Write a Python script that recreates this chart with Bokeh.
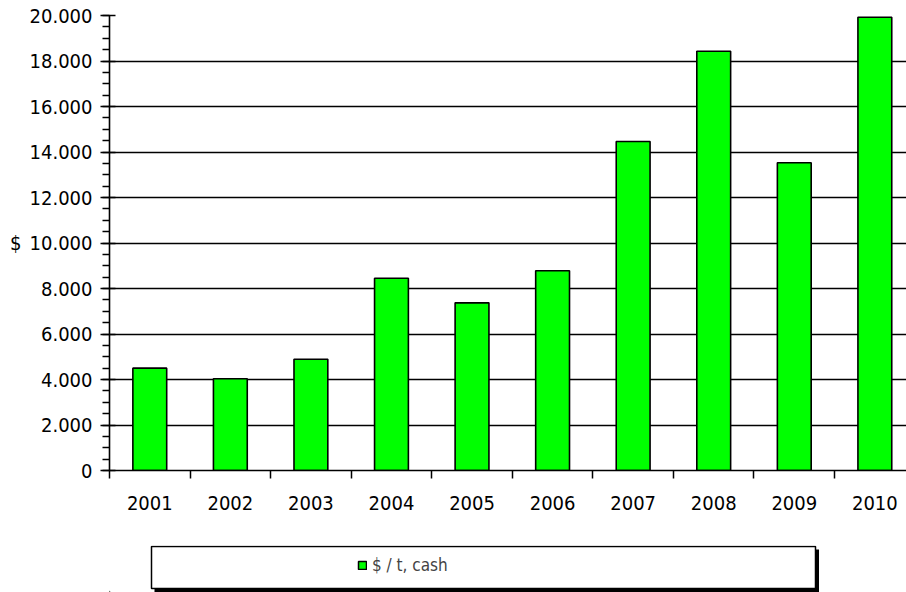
from bokeh.plotting import figure
from bokeh.models import Range1d, FixedTicker, Legend, LegendItem
from bokeh.layouts import column
from bokeh.embed import file_html
from bokeh.resources import INLINE

# ---- data ----
years = ["2001", "2002", "2003", "2004", "2005", "2006", "2007", "2008", "2009", "2010"]
price = [4500, 4030, 4890, 8450, 7370, 8780, 14460, 18430, 13530, 19920]
y_ticks = [0, 2000, 4000, 6000, 8000, 10000, 12000, 14000, 16000, 18000, 20000]
y_tick_labels = ["0", "2.000", "4.000", "6.000", "8.000", "10.000",
                 "12.000", "14.000", "16.000", "18.000", "20.000"]
series_name = "$ / t, cash"
y_label = "$"

FONT = "'DejaVu Sans Condensed', 'DejaVu Sans'"
LFONT = "'Liberation Sans Narrow', 'DejaVu Sans Condensed', sans-serif"
GREEN = "#00FF00"

xs = list(range(1, len(years) + 1))

p = figure(width=906, height=545, output_backend="svg", toolbar_location=None,
           x_range=Range1d(0.5, 10.393), y_range=Range1d(0, 20000),
           min_border_left=109, min_border_right=0, min_border_top=15,
           min_border_bottom=75)
p.outline_line_color = None
p.background_fill_color = "white"

p.vbar(x=xs, top=price, width=0.42, fill_color=GREEN, line_color="black", line_width=1.6)

# y axis
ya = p.yaxis[0]
ya.ticker = FixedTicker(ticks=y_ticks, minor_ticks=list(range(0, 20001, 500)))
ya.major_label_overrides = {t: l for t, l in zip(y_ticks, y_tick_labels)}
ya.major_tick_in = 6
ya.major_tick_out = 9
ya.minor_tick_in = 0
ya.minor_tick_out = 7
ya.axis_line_color = "black"
ya.axis_line_width = 1.6
ya.major_tick_line_color = "black"
ya.major_tick_line_width = 1.6
ya.minor_tick_line_color = "black"
ya.minor_tick_line_width = 1.5
ya.major_label_text_font = FONT
ya.major_label_text_font_size = "20px"
ya.major_label_text_color = "black"
ya.major_label_standoff = 8
ya.axis_label = y_label
ya.axis_label_orientation = "horizontal"
ya.axis_label_text_font = FONT
ya.axis_label_text_font_size = "20px"
ya.axis_label_text_font_style = "normal"
ya.axis_label_text_color = "black"
ya.axis_label_standoff = 5

# x axis: labels at centres, ticks at category boundaries
xa = p.xaxis[0]
xa.ticker = FixedTicker(ticks=xs, minor_ticks=[x - 0.5 for x in xs])
xa.major_label_overrides = {x: y for x, y in zip(xs, years)}
xa.major_tick_in = 0
xa.major_tick_out = 0
xa.minor_tick_in = 0
xa.minor_tick_out = 8
xa.axis_line_color = "black"
xa.axis_line_width = 1.6
xa.minor_tick_line_color = "black"
xa.minor_tick_line_width = 1.5
xa.major_label_text_font = FONT
xa.major_label_text_font_size = "20px"
xa.major_label_text_color = "black"
xa.major_label_standoff = 17

p.xgrid.visible = False
p.ygrid.ticker = FixedTicker(ticks=y_ticks)
p.ygrid.grid_line_color = "black"
p.ygrid.grid_line_width = 1.6

# ---- legend box (separate strip below, frame aligned with the chart's frame) ----
BOX_L = 41  # box left edge, px from the chart frame's left edge
lg = figure(width=109 + 710, height=47, output_backend="svg", toolbar_location=None,
            x_range=Range1d(0, 710), y_range=Range1d(0, 47),
            min_border_left=109, min_border_right=0, min_border_top=0, min_border_bottom=0)
lg.axis.visible = False
lg.grid.visible = False
lg.outline_line_color = None
lg.quad(left=[BOX_L + 4], right=[BOX_L + 669], bottom=[0], top=[43],
        fill_color="black", line_color=None)
lg.quad(left=[BOX_L + 1], right=[BOX_L + 665], bottom=[4], top=[46], fill_color="white",
        line_color="black", line_width=1.5)
dummy = lg.vbar(x=[-100], top=[1], width=1, fill_color=GREEN, line_color="black", line_width=1.5)
legend = Legend(items=[LegendItem(label=series_name, renderers=[dummy])],
                location=(BOX_L + 207, 17), border_line_color=None, background_fill_alpha=0,
                padding=0, margin=0, glyph_width=10, glyph_height=10, label_standoff=5,
                label_text_font=LFONT, label_text_font_size="17px", label_height=20)
lg.add_layout(legend)

layout = column(p, lg, spacing=0)
open("out.html", "w").write(file_html(layout, INLINE))
